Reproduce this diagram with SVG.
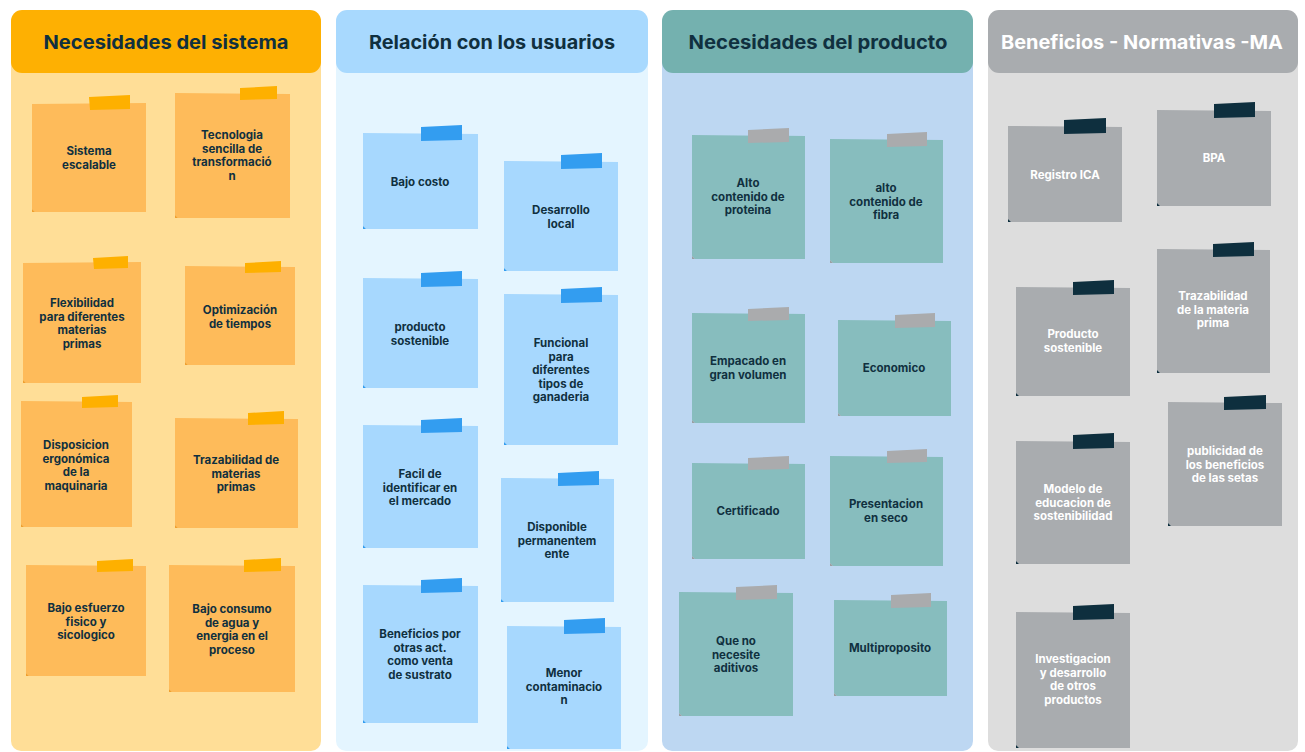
<svg xmlns="http://www.w3.org/2000/svg" width="1305" height="752" viewBox="0 0 1305 752">
<style>
text{font-family:Inter,"DejaVu Sans",sans-serif;font-weight:700;text-anchor:middle}
.h{font-size:19px;fill:#10303f}
.hw{fill:#ffffff}
.t{font-size:11.5px;fill:#10303f}
.tw{font-size:11.5px;fill:#ffffff}
.n1{fill:#febb5a}.p1{fill:#feb000}.f1{fill:#f0a030}
.n2{fill:#a7d8fe}.p2{fill:#339df0}.f2{fill:#339df0}
.n3{fill:#87bdbe}.p3{fill:#aaabad}.f3{fill:#9aa0a2}
.n4{fill:#a9acaf}.p4{fill:#0e2f3e}.f4{fill:#0e2f3e}
</style>
<rect width="1305" height="752" fill="#ffffff"/>
<g id="col1"><rect x="11" y="30" width="310" height="721" rx="10" fill="#ffde97"/><rect x="11" y="10" width="310" height="63" rx="11" fill="#feb002"/><text class="h" x="166" y="49" textLength="245" lengthAdjust="spacingAndGlyphs">Necesidades del sistema</text></g>
<g id="col2"><rect x="336" y="30" width="312" height="721" rx="10" fill="#e4f5ff"/><rect x="336" y="10" width="312" height="63" rx="11" fill="#a8d9fe"/><text class="h" x="492" y="49" textLength="246" lengthAdjust="spacingAndGlyphs">Relación con los usuarios</text></g>
<g id="col3"><rect x="662" y="30" width="311" height="721" rx="10" fill="#bdd7f2"/><rect x="662" y="10" width="311" height="63" rx="11" fill="#74b1af"/><text class="h" x="818" y="49" textLength="259" lengthAdjust="spacingAndGlyphs">Necesidades del producto</text></g>
<g id="col4"><rect x="988" y="30" width="310" height="721" rx="10" fill="#dddddd"/><rect x="988" y="10" width="310" height="63" rx="11" fill="#a9acaf"/><text class="h hw" x="1142" y="49" textLength="282" lengthAdjust="spacingAndGlyphs">Beneficios - Normativas -MA</text></g>
<g id="connectors"></g>

<g id="n1-1"><path class="n1" d="M32,104 L146,103 L146,212 L35,212 L32,209 Z"/><path class="f1" d="M32,209 L35,212 L32,212 Z"/><path class="p1" d="M89,97 L130,95 L130,109 L90,110 Z"/><text class="t" x="89" y="155"><tspan x="89">Sistema</tspan><tspan x="89" dy="13.5">escalable</tspan></text></g>
<g id="n1-2"><path class="n1" d="M175,93 L290,94 L290,218 L178,218 L175,215 Z"/><path class="f1" d="M175,215 L178,218 L175,218 Z"/><path class="p1" d="M240,88 L277,86 L277,99 L240,100 Z"/><text class="t" x="232" y="139"><tspan x="232">Tecnologia</tspan><tspan x="232" dy="13.5">sencilla de</tspan><tspan x="232" dy="13.5">transformació</tspan><tspan x="232" dy="13.5">n</tspan></text></g>
<g id="n1-3"><path class="n1" d="M23,263 L141,262 L141,383 L26,383 L23,380 Z"/><path class="f1" d="M23,380 L26,383 L23,383 Z"/><path class="p1" d="M93,258 L128,256 L128,268 L94,269 Z"/><text class="t" x="82" y="307"><tspan x="82">Flexibilidad</tspan><tspan x="82" dy="13.5">para diferentes</tspan><tspan x="82" dy="13.5">materias</tspan><tspan x="82" dy="13.5">primas</tspan></text></g>
<g id="n1-4"><path class="n1" d="M185,266 L295,267 L295,365 L188,365 L185,362 Z"/><path class="f1" d="M185,362 L188,365 L185,365 Z"/><path class="p1" d="M245,263 L281,261 L281,272 L245,273 Z"/><text class="t" x="240" y="314"><tspan x="240">Optimización</tspan><tspan x="240" dy="13.5">de tiempos</tspan></text></g>
<g id="n1-5"><path class="n1" d="M21,401 L132,402 L132,527 L24,527 L21,524 Z"/><path class="f1" d="M21,524 L24,527 L21,527 Z"/><path class="p1" d="M82,397 L118,395 L118,407 L82,408 Z"/><text class="t" x="76" y="449"><tspan x="76">Disposicion</tspan><tspan x="76" dy="13.5">ergonómica</tspan><tspan x="76" dy="13.5">de la</tspan><tspan x="76" dy="13.5">maquinaria</tspan></text></g>
<g id="n1-6"><path class="n1" d="M175,418 L298,419 L298,528 L178,528 L175,525 Z"/><path class="f1" d="M175,525 L178,528 L175,528 Z"/><path class="p1" d="M248,413 L284,411 L284,424 L248,425 Z"/><text class="t" x="236" y="464"><tspan x="236">Trazabilidad de</tspan><tspan x="236" dy="13.5">materias</tspan><tspan x="236" dy="13.5">primas</tspan></text></g>
<g id="n1-7"><path class="n1" d="M26,565 L146,566 L146,676 L29,676 L26,673 Z"/><path class="f1" d="M26,673 L29,676 L26,676 Z"/><path class="p1" d="M97,561 L133,559 L133,571 L97,572 Z"/><text class="t" x="86" y="612"><tspan x="86">Bajo esfuerzo</tspan><tspan x="86" dy="13.5">fisico y</tspan><tspan x="86" dy="13.5">sicologico</tspan></text></g>
<g id="n1-8"><path class="n1" d="M169,565 L295,566 L295,692 L172,692 L169,689 Z"/><path class="f1" d="M169,689 L172,692 L169,692 Z"/><path class="p1" d="M244,560 L281,558 L281,571 L244,572 Z"/><text class="t" x="232" y="613"><tspan x="232">Bajo consumo</tspan><tspan x="232" dy="13.5">de agua y</tspan><tspan x="232" dy="13.5">energia en el</tspan><tspan x="232" dy="13.5">proceso</tspan></text></g>

<g id="n2-1"><path class="n2" d="M363,133 L478,134 L478,229 L366,229 L363,226 Z"/><path class="f2" d="M363,226 L366,229 L363,229 Z"/><path class="p2" d="M421,127 L462,125 L462,140 L421,141 Z"/><text class="t" x="420" y="186"><tspan x="420">Bajo costo</tspan></text></g>
<g id="n2-2"><path class="n2" d="M504,161 L618,162 L618,271 L507,271 L504,268 Z"/><path class="f2" d="M504,268 L507,271 L504,271 Z"/><path class="p2" d="M561,155 L602,153 L602,168 L561,169 Z"/><text class="t" x="561" y="214"><tspan x="561">Desarrollo</tspan><tspan x="561" dy="13.5">local</tspan></text></g>
<g id="n2-3"><path class="n2" d="M363,278 L478,279 L478,388 L366,388 L363,385 Z"/><path class="f2" d="M363,385 L366,388 L363,388 Z"/><path class="p2" d="M421,273 L462,271 L462,286 L421,287 Z"/><text class="t" x="420" y="331"><tspan x="420">producto</tspan><tspan x="420" dy="13.5">sostenible</tspan></text></g>
<g id="n2-4"><path class="n2" d="M504,294 L618,295 L618,445 L507,445 L504,442 Z"/><path class="f2" d="M504,442 L507,445 L504,445 Z"/><path class="p2" d="M561,289 L602,287 L602,302 L561,303 Z"/><text class="t" x="561" y="347"><tspan x="561">Funcional</tspan><tspan x="561" dy="13.5">para</tspan><tspan x="561" dy="13.5">diferentes</tspan><tspan x="561" dy="13.5">tipos de</tspan><tspan x="561" dy="13.5">ganaderia</tspan></text></g>
<g id="n2-5"><path class="n2" d="M363,425 L478,426 L478,548 L366,548 L363,545 Z"/><path class="f2" d="M363,545 L366,548 L363,548 Z"/><path class="p2" d="M421,420 L462,418 L462,432 L421,433 Z"/><text class="t" x="420" y="478"><tspan x="420">Facil de</tspan><tspan x="420" dy="13.5">identificar en</tspan><tspan x="420" dy="13.5">el mercado</tspan></text></g>
<g id="n2-6"><path class="n2" d="M501,478 L614,479 L614,602 L504,602 L501,599 Z"/><path class="f2" d="M501,599 L504,602 L501,602 Z"/><path class="p2" d="M558,473 L599,471 L599,485 L558,486 Z"/><text class="t" x="557" y="531"><tspan x="557">Disponible</tspan><tspan x="557" dy="13.5">permanentem</tspan><tspan x="557" dy="13.5">ente</tspan></text></g>
<g id="n2-7"><path class="n2" d="M363,585 L478,586 L478,723 L366,723 L363,720 Z"/><path class="f2" d="M363,720 L366,723 L363,723 Z"/><path class="p2" d="M421,580 L462,578 L462,592 L421,593 Z"/><text class="t" x="420" y="638"><tspan x="420">Beneficios por</tspan><tspan x="420" dy="13.5">otras act.</tspan><tspan x="420" dy="13.5">como venta</tspan><tspan x="420" dy="13.5">de sustrato</tspan></text></g>
<g id="n2-8"><path class="n2" d="M507,626 L621,627 L621,749 L510,749 L507,746 Z"/><path class="f2" d="M507,746 L510,749 L507,749 Z"/><path class="p2" d="M564,620 L605,618 L605,633 L564,634 Z"/><text class="t" x="564" y="677"><tspan x="564">Menor</tspan><tspan x="564" dy="13.5">contaminacio</tspan><tspan x="564" dy="13.5">n</tspan></text></g>

<g id="n3-1"><path class="n3" d="M692,135 L805,136 L805,259 L695,259 L692,256 Z"/><path class="f3" d="M692,256 L695,259 L692,259 Z"/><path class="p3" d="M748,130 L789,128 L789,142 L748,143 Z"/><text class="t" x="748" y="187"><tspan x="748">Alto</tspan><tspan x="748" dy="13.5">contenido de</tspan><tspan x="748" dy="13.5">proteina</tspan></text></g>
<g id="n3-2"><path class="n3" d="M830,139 L943,140 L943,263 L833,263 L830,260 Z"/><path class="f3" d="M830,260 L833,263 L830,263 Z"/><path class="p3" d="M887,134 L927,132 L927,146 L887,147 Z"/><text class="t" x="886" y="192"><tspan x="886">alto</tspan><tspan x="886" dy="13.5">contenido de</tspan><tspan x="886" dy="13.5">fibra</tspan></text></g>
<g id="n3-3"><path class="n3" d="M692,313 L805,314 L805,423 L695,423 L692,420 Z"/><path class="f3" d="M692,420 L695,423 L692,423 Z"/><path class="p3" d="M748,309 L789,307 L789,320 L748,321 Z"/><text class="t" x="748" y="365"><tspan x="748">Empacado en</tspan><tspan x="748" dy="13.5">gran volumen</tspan></text></g>
<g id="n3-4"><path class="n3" d="M838,320 L951,321 L951,416 L841,416 L838,413 Z"/><path class="f3" d="M838,413 L841,416 L838,416 Z"/><path class="p3" d="M895,315 L935,313 L935,327 L895,328 Z"/><text class="t" x="894" y="372"><tspan x="894">Economico</tspan></text></g>
<g id="n3-5"><path class="n3" d="M692,463 L805,464 L805,559 L695,559 L692,556 Z"/><path class="f3" d="M692,556 L695,559 L692,559 Z"/><path class="p3" d="M748,458 L789,456 L789,469 L748,470 Z"/><text class="t" x="748" y="515"><tspan x="748">Certificado</tspan></text></g>
<g id="n3-6"><path class="n3" d="M830,456 L943,457 L943,566 L833,566 L830,563 Z"/><path class="f3" d="M830,563 L833,566 L830,566 Z"/><path class="p3" d="M887,451 L927,449 L927,462 L887,463 Z"/><text class="t" x="886" y="508"><tspan x="886">Presentacion</tspan><tspan x="886" dy="13.5">en seco</tspan></text></g>
<g id="n3-7"><path class="n3" d="M679,592 L793,593 L793,716 L682,716 L679,713 Z"/><path class="f3" d="M679,713 L682,716 L679,716 Z"/><path class="p3" d="M736,587 L777,585 L777,599 L736,600 Z"/><text class="t" x="736" y="645"><tspan x="736">Que no</tspan><tspan x="736" dy="13.5">necesite</tspan><tspan x="736" dy="13.5">aditivos</tspan></text></g>
<g id="n3-8"><path class="n3" d="M834,600 L947,601 L947,696 L837,696 L834,693 Z"/><path class="f3" d="M834,693 L837,696 L834,696 Z"/><path class="p3" d="M891,595 L931,593 L931,607 L891,608 Z"/><text class="t" x="890" y="652"><tspan x="890">Multiproposito</tspan></text></g>

<g id="n4-1"><path class="n4" d="M1008,126 L1122,127 L1122,222 L1011,222 L1008,219 Z"/><path class="f4" d="M1008,219 L1011,222 L1008,222 Z"/><path class="p4" d="M1064,120 L1106,118 L1106,133 L1064,134 Z"/><text class="tw" x="1065" y="179"><tspan x="1065">Registro ICA</tspan></text></g>
<g id="n4-2"><path class="n4" d="M1157,110 L1271,111 L1271,206 L1160,206 L1157,203 Z"/><path class="f4" d="M1157,203 L1160,206 L1157,206 Z"/><path class="p4" d="M1214,104 L1255,102 L1255,117 L1214,118 Z"/><text class="tw" x="1214" y="162"><tspan x="1214">BPA</tspan></text></g>
<g id="n4-3"><path class="n4" d="M1016,287 L1130,288 L1130,396 L1019,396 L1016,393 Z"/><path class="f4" d="M1016,393 L1019,396 L1016,396 Z"/><path class="p4" d="M1073,282 L1114,280 L1114,294 L1073,295 Z"/><text class="tw" x="1073" y="338"><tspan x="1073">Producto</tspan><tspan x="1073" dy="13.5">sostenible</tspan></text></g>
<g id="n4-4"><path class="n4" d="M1157,249 L1270,250 L1270,373 L1160,373 L1157,370 Z"/><path class="f4" d="M1157,370 L1160,373 L1157,373 Z"/><path class="p4" d="M1213,244 L1254,242 L1254,256 L1213,257 Z"/><text class="tw" x="1213" y="300"><tspan x="1213">Trazabilidad</tspan><tspan x="1213" dy="13.5">de la materia</tspan><tspan x="1213" dy="13.5">prima</tspan></text></g>
<g id="n4-5"><path class="n4" d="M1168,402 L1282,403 L1282,526 L1171,526 L1168,523 Z"/><path class="f4" d="M1168,523 L1171,526 L1168,526 Z"/><path class="p4" d="M1224,397 L1266,395 L1266,409 L1224,410 Z"/><text class="tw" x="1225" y="455"><tspan x="1225">publicidad de</tspan><tspan x="1225" dy="13.5">los beneficios</tspan><tspan x="1225" dy="13.5">de las setas</tspan></text></g>
<g id="n4-6"><path class="n4" d="M1016,441 L1130,442 L1130,564 L1019,564 L1016,561 Z"/><path class="f4" d="M1016,561 L1019,564 L1016,564 Z"/><path class="p4" d="M1073,435 L1114,433 L1114,448 L1073,449 Z"/><text class="tw" x="1073" y="493"><tspan x="1073">Modelo de</tspan><tspan x="1073" dy="13.5">educacion de</tspan><tspan x="1073" dy="13.5">sostenibilidad</tspan></text></g>
<g id="n4-7"><path class="n4" d="M1016,612 L1130,613 L1130,748 L1019,748 L1016,745 Z"/><path class="f4" d="M1016,745 L1019,748 L1016,748 Z"/><path class="p4" d="M1073,606 L1114,604 L1114,619 L1073,620 Z"/><text class="tw" x="1073" y="663"><tspan x="1073">Investigacion</tspan><tspan x="1073" dy="13.5">y desarrollo</tspan><tspan x="1073" dy="13.5">de otros</tspan><tspan x="1073" dy="13.5">productos</tspan></text></g>
</svg>
